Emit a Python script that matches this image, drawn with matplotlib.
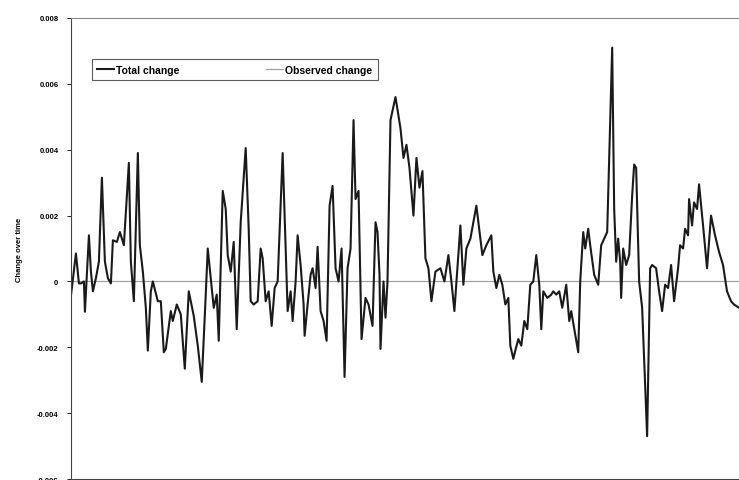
import matplotlib.pyplot as plt
from matplotlib.ticker import FuncFormatter

# time index (arbitrary units, the x axis has no labels)
t = [0, 5, 8, 10, 13, 14, 18, 20, 22, 25, 28, 31, 34, 37, 40, 42, 46, 49, 51, 53, 58, 60, 63, 67, 69, 72, 75, 77, 80, 82, 87, 90, 93,
     95, 100, 102, 106, 110, 114, 118, 123, 127, 131, 135, 137, 140, 143, 146, 148, 152, 155, 157, 160, 163, 166, 170, 175, 178, 180, 183, 187, 190, 192,
     195, 198, 201, 204, 207, 212, 214, 217, 220, 222, 225, 227, 230, 233, 234, 237, 240, 242, 245, 247, 250, 253, 256, 259, 262, 265, 268, 271, 274, 277, 280, 283, 285, 288, 290,
     291, 295, 298, 302, 305, 307, 309, 310, 313, 315, 317, 320, 325, 330, 333, 336, 339, 343, 346, 349, 352, 355, 358, 361, 365, 370, 374, 378, 381, 384,
     390, 393, 396, 400, 406, 412, 416, 421, 423, 426, 429, 432, 435, 438, 440, 443, 445, 448, 451, 454, 457, 460, 463, 466, 469, 471, 473, 477, 481,
     483, 486, 489, 492, 496, 499, 501, 508, 510, 513, 515, 518, 520, 524, 528, 531, 534, 537, 542, 544, 546, 548, 550, 551, 553, 556, 559, 562, 564, 566, 569, 572, 577,
     580, 582, 586, 589, 592, 595, 598, 601, 604, 608, 610, 613, 615, 618, 619, 622, 624, 627, 629, 633, 637, 641, 645, 649, 653, 657, 661, 664, 669]

# total change, in thousandths
total_milli = [-0.43, 0.85, -0.06, -0.06, 0.0, -0.92, 1.4, 0.3, -0.3, 0.1, 0.6, 3.15, 0.6, 0.1, -0.06, 1.25, 1.2, 1.5, 1.3, 1.1, 3.6, 0.6, -0.6, 3.9, 1.1, 0.3, -0.8, -2.1, -0.3, 0.0, -0.6, -0.6, -2.15,
               -2.05, -0.9, -1.2, -0.7, -1.0, -2.65, -0.3, -1.05, -1.95, -3.05, -0.4, 1.0, 0.1, -0.8, -0.4, -1.8, 2.75, 2.2, 0.8, 0.3, 1.2, -1.45, 1.8, 4.05, 1.6, -0.6, -0.7, -0.6, 1.0, 0.7,
               -0.6, -0.3, -1.35, -0.2, 0.0, 3.9, 2.0, -0.9, -0.3, -1.2, 0.0, 1.4, 0.5, -0.7, -1.65, -0.7, 0.2, 0.4, -0.2, 1.05, -0.9, -1.2, -1.8, 2.3, 2.9, 0.4, 0.0, 1.0, -2.9, 0.4, 1.0, 4.9, 2.5, 2.75, -0.2,
               -1.75, -0.5, -0.7, -1.35, 1.8, 1.5, 0.2, -2.05, 0.0, -1.1, 0.0, 4.9, 5.6, 4.65, 3.75, 4.15, 3.45, 2.0, 3.75, 2.85, 3.35, 0.7, 0.4, -0.6, 0.3, 0.4, 0.0, 0.8, 0.0, -0.9,
               1.7, -0.1, 1.0, 1.3, 2.3, 0.8, 1.1, 1.4, 0.3, -0.2, 0.2, -0.1, -0.7, -0.5, -1.95, -2.35, -2.1, -1.75, -1.95, -1.2, -1.45, -0.1, 0.0, 0.8, -0.1, -1.45, -0.3, -0.5, -0.4,
               -0.3, -0.4, -0.3, -0.8, -0.1, -1.2, -0.9, -2.15, 0.0, 1.5, 1.0, 1.6, 1.1, 0.2, -0.1, 1.1, 1.3, 1.5, 7.1, 2.2, 0.6, 1.3, 0.6, -0.5, 1.0, 0.5, 0.8, 2.6, 3.55, 3.45, 0.0, -0.8, -4.7,
               0.4, 0.5, 0.4, -0.3, -0.9, -0.1, -0.2, 0.5, -0.6, 0.4, 1.1, 1.0, 1.6, 1.4, 2.5, 1.7, 2.4, 2.2, 2.95, 1.7, 0.4, 2.0, 1.4, 0.9, 0.5, -0.3, -0.6, -0.7, -0.8]

total_change = [v / 1000 for v in total_milli]
observed_level = 0.0

y_ticks = [-0.006, -0.004, -0.002, 0, 0.002, 0.004, 0.006, 0.008]

plt.rcParams['font.family'] = ['Liberation Sans', 'DejaVu Sans']

fig = plt.figure(figsize=(7.39, 4.81), dpi=100)
ax = fig.add_axes([0.096, 0.002, 0.904, 0.9585])

ax.axhline(observed_level, color="#a0a0a0", lw=0.9, label="Observed change", zorder=1)
ax.plot(t, total_change, color="#1a1a1a", lw=1.5, label="Total change", zorder=2)

ax.set_xlim(0, 669)
ax.set_ylim(-0.006, 0.008)
ax.set_yticks(y_ticks)
ax.yaxis.set_major_formatter(FuncFormatter(lambda v, p: "0" if abs(v) < 1e-12 else f"{v:.3f}"))
ax.tick_params(axis="y", labelsize=5.5, length=3, width=0.6, pad=6)
for lab in ax.get_yticklabels():
    lab.set_fontweight("bold")
ax.set_xticks([])

ax.spines["right"].set_visible(False)
ax.spines["top"].set_color("#888888")
ax.spines["left"].set_color("#444444")
ax.spines["bottom"].set_color("#444444")

ax.set_ylabel("Change over time", fontsize=5.5, fontweight="bold", labelpad=10)

handles, labels = ax.get_legend_handles_labels()
leg = ax.legend(handles[::-1], labels[::-1], loc="upper left", ncol=2,
                bbox_to_anchor=(0.031, 0.835, 0.428, 0.076), mode="expand",
                fancybox=False, edgecolor="#333333", fontsize=7.5,
                handlelength=1.6, handletextpad=0.2, borderaxespad=0, borderpad=0.55)
leg.get_frame().set_linewidth(0.8)
for txt in leg.get_texts():
    txt.set_fontweight("bold")

fig.savefig("out.png", dpi=100)
